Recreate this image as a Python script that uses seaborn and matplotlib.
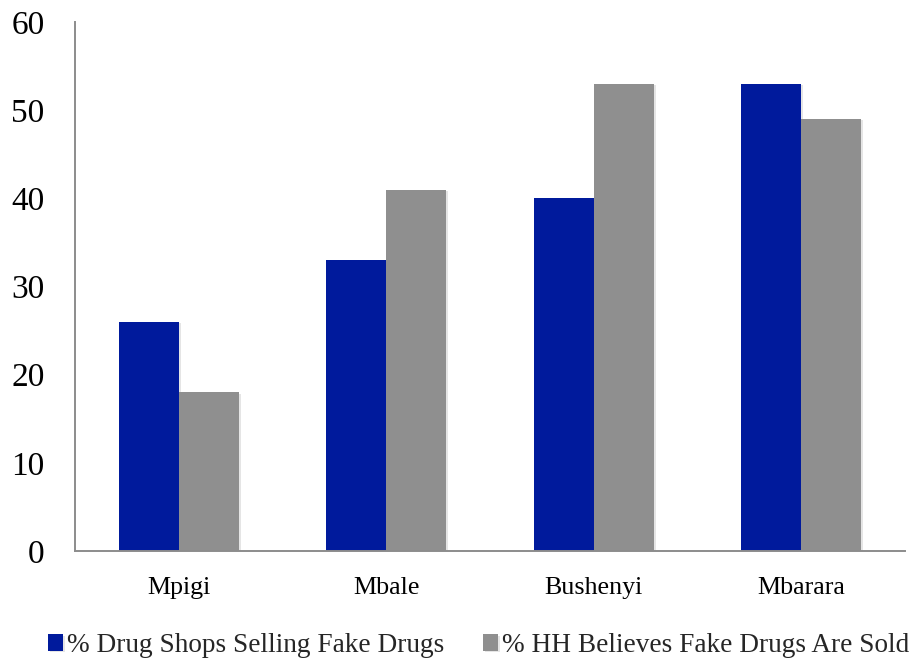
import matplotlib
matplotlib.use("Agg")
import matplotlib.pyplot as plt
import matplotlib.patheffects as pe
import seaborn as sns
import pandas as pd

districts = ["Mpigi", "Mbale", "Bushenyi", "Mbarara"]
series_names = ["% Drug Shops Selling Fake Drugs", "% HH Believes Fake Drugs Are Sold"]
shops_selling_fake = [26, 33, 40, 53]
hh_believes_fake = [18, 41, 53, 49]
y_ticks = [0, 10, 20, 30, 40, 50, 60]

colors = ["#001A9C", "#8F8F8F"]
axis_color = "#8C8C8C"

df = pd.DataFrame({
    "district": districts * 2,
    "series": [series_names[0]] * 4 + [series_names[1]] * 4,
    "value": shops_selling_fake + hh_believes_fake,
})

sns.set_theme(style="white")
plt.rcParams["font.family"] = ["Liberation Serif", "DejaVu Serif"]

fig = plt.figure(figsize=(9.10, 6.59), dpi=100)
ax = fig.add_axes([0.0824, 0.1639, 0.9121, 0.8027])

sns.barplot(data=df, x="district", y="value", hue="series", order=districts,
            hue_order=series_names, palette=colors, width=0.578, saturation=1,
            edgecolor="none", linewidth=0, ax=ax, legend=True)

for bar in ax.patches:
    bar.set_path_effects([pe.SimplePatchShadow(offset=(1.5, -1), alpha=0.1, shadow_rgbFace="black"),
                          pe.Normal()])

ax.set_xlim(-0.5, 3.5)
ax.set_ylim(0, 60)
ax.set_yticks(y_ticks)
ax.set_yticklabels([str(t) for t in y_ticks], fontsize=24, color="black")
ax.set_xlabel("")
ax.set_ylabel("")

# category labels at centers, tick marks on group boundaries
ax.set_xticks([0, 1, 2, 3])
ax.set_xticklabels(districts, fontsize=18.7, color="black")
ax.tick_params(axis="x", which="major", length=0, pad=19)
ax.set_xticks([-0.5, 0.5, 1.5, 2.5, 3.5], minor=True)
ax.tick_params(axis="x", which="minor", length=7, width=1.2, color=axis_color, direction="out")
ax.tick_params(axis="y", length=7, width=1.2, color=axis_color, direction="out", pad=15)

for side in ["top", "right"]:
    ax.spines[side].set_visible(False)
for side in ["left", "bottom"]:
    ax.spines[side].set_color(axis_color)
    ax.spines[side].set_linewidth(1.4)

handles, labels = ax.get_legend_handles_labels()
ax.legend(handles, labels, loc="center", bbox_to_anchor=(0.526, 0.02),
          bbox_transform=fig.transFigure, ncol=2, frameon=False, fontsize=19.6,
          handlelength=0.55, handleheight=0.55, handletextpad=0.15, columnspacing=1.45,
          borderaxespad=0, borderpad=0)

fig.savefig("out.png", dpi=100, facecolor="white")
